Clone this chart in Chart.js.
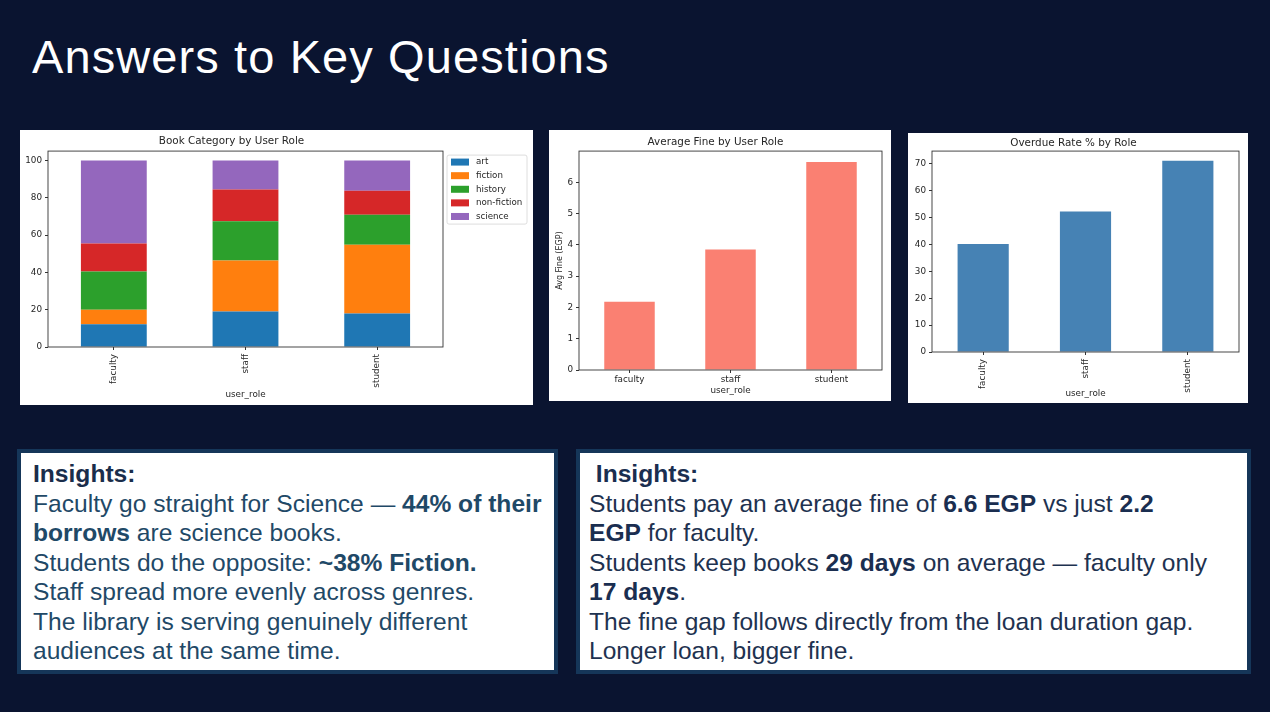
<!DOCTYPE html>
<html>
<head>
<meta charset="utf-8">
<title>Answers to Key Questions</title>
<script src="https://cdn.jsdelivr.net/npm/chart.js@4.4.0/dist/chart.umd.min.js"></script>
<style>
  html, body { margin: 0; padding: 0; }
  body {
    width: 1270px; height: 712px; overflow: hidden;
    background: #0a1430; position: relative;
    font-family: "Liberation Sans", Arial, sans-serif;
  }
  .slide-title {
    position: absolute; left: 32px; top: 34px;
    font-size: 47px; line-height: 46px; letter-spacing: 1.1px;
    color: #fff; white-space: nowrap;
  }
  .panel { position: absolute; background: #fff; }
  .panel canvas { display: block; }
  .note {
    position: absolute; box-sizing: border-box;
    border: 4px solid #153659; background: #fff;
    font-size: 24.6px; line-height: 29.5px; white-space: nowrap;
  }
  .note b { font-weight: bold; }
  #noteLeft { left: 17px; top: 449px; width: 541px; height: 225px; padding: 6px 0 0 12px; color: #1f4967; }
  #noteLeft .head { color: #1a2d4b; }
  #noteRight { left: 576px; top: 449px; width: 675px; height: 225px; padding: 6px 0 0 9px; color: #1e3250; }
  #noteRight b { color: #1a2e50; }
</style>
</head>
<body>

<div class="slide-title">Answers to Key Questions</div>

<div class="panel" style="left:20px; top:130px; width:513px; height:275px;"><canvas id="categoryChart"></canvas></div>
<div class="panel" style="left:549px; top:130px; width:342px; height:271px;"><canvas id="fineChart"></canvas></div>
<div class="panel" style="left:908px; top:133px; width:340px; height:270px;"><canvas id="overdueChart"></canvas></div>

<div class="note" id="noteLeft">
  <b class="head">Insights:</b><br>
  Faculty go straight for Science — <b>44% of their</b><br>
  <b>borrows</b> are science books.<br>
  Students do the opposite: <b>~38% Fiction.</b><br>
  Staff spread more evenly across genres.<br>
  The library is serving genuinely different<br>
  audiences at the same time.
</div>

<div class="note" id="noteRight">
  <b>&nbsp;Insights:</b><br>
  Students pay an average fine of <b>6.6 EGP</b> vs just <b>2.2</b><br>
  <b>EGP</b> for faculty.<br>
  Students keep books <b>29 days</b> on average — faculty only<br>
  <b>17 days</b>.<br>
  The fine gap follows directly from the loan duration gap.<br>
  Longer loan, bigger fine.
</div>

<script>
// ---- data ----
const roles = ['faculty', 'staff', 'student'];
const categoryNames = ['art', 'fiction', 'history', 'non-fiction', 'science'];

// share of borrows per category, % (faculty, staff, student)
const artShare = [12.2, 19.0, 17.9];
const fictionShare = [7.7, 27.3, 36.9];
const historyShare = [20.5, 21.1, 16.1];
const nonFictionShare = [15.1, 17.0, 12.8];
const scienceShare = [44.5, 15.6, 16.3];

const avgFine = [2.18, 3.85, 6.65];
const overdueRate = [40.2, 52.3, 71.2];

const shareTicks = [0, 20, 40, 60, 80, 100];
const fineTicks = [0, 1, 2, 3, 4, 5, 6];
const overdueTicks = [0, 10, 20, 30, 40, 50, 60, 70];

// ---- styling ----
const tab10 = ['#1f77b4', '#ff7f0e', '#2ca02c', '#d62728', '#9467bd'];
const inkColor = '#262626';
const tickSize = 8.8;

Chart.defaults.font.family = '"DejaVu Sans", sans-serif';
Chart.defaults.color = inkColor;
Chart.defaults.animation = false;

// matplotlib style box around the plot area
const framePlugin = {
  id: 'frame',
  afterDatasetsDraw(chart) {
    const a = chart.chartArea;
    const ctx = chart.ctx;
    ctx.save();
    ctx.strokeStyle = '#333';
    ctx.lineWidth = 0.9;
    ctx.strokeRect(a.left, a.top, a.right - a.left, a.bottom - a.top);
    ctx.restore();
  }
};

// legend box sitting just right of the axes, like pandas' default
const sideLegend = {
  id: 'sideLegend',
  afterDraw(chart) {
    const a = chart.chartArea;
    const ctx = chart.ctx;
    const x0 = a.right + 4, y0 = a.top + 4, w = 80, h = 69;
    ctx.save();
    ctx.fillStyle = 'rgba(255,255,255,0.9)';
    ctx.strokeStyle = '#d6d6d6';
    ctx.lineWidth = 0.8;
    ctx.beginPath();
    ctx.roundRect(x0, y0, w, h, 2);
    ctx.fill();
    ctx.stroke();
    ctx.font = '8.7px "DejaVu Sans", sans-serif';
    ctx.textBaseline = 'middle';
    chart.data.datasets.forEach((ds, i) => {
      const cy = y0 + 7 + i * 13.6;
      ctx.fillStyle = ds.backgroundColor;
      ctx.fillRect(x0 + 4, cy - 3.5, 18, 7);
      ctx.fillStyle = inkColor;
      ctx.fillText(ds.label, x0 + 29, cy);
    });
    ctx.restore();
  }
};

function tickGrid() {
  return { display: true, drawOnChartArea: false, offset: false, tickLength: 3, color: '#333' };
}

function barOptions(o) {
  return {
    responsive: true,
    maintainAspectRatio: false,
    layout: { padding: { left: 0, right: o.padRight, top: 0, bottom: 0 } },
    plugins: {
      legend: { display: false },
      tooltip: { enabled: false },
      title: {
        display: true,
        text: o.title,
        color: inkColor,
        font: { size: 10.4, weight: 'normal' },
        padding: o.titlePad
      }
    },
    scales: {
      x: {
        stacked: !!o.stacked,
        grid: tickGrid(),
        border: { display: false },
        ticks: {
          font: { size: tickSize },
          padding: o.rotate ? 4 : 1.7,
          minRotation: o.rotate ? 90 : 0,
          maxRotation: o.rotate ? 90 : 0,
          autoSkip: false
        },
        title: { display: true, text: 'user_role', font: { size: tickSize }, padding: { top: 0, bottom: o.xTitlePad } },
        afterFit: s => { s.height = o.xHeight; }
      },
      y: {
        stacked: !!o.stacked,
        min: 0,
        max: o.yMax,
        grid: tickGrid(),
        border: { display: false },
        ticks: { font: { size: tickSize }, padding: 3 },
        title: o.yTitle
          ? { display: true, text: o.yTitle, font: { size: 8 }, padding: { top: 6, bottom: 0 } }
          : { display: false },
        afterBuildTicks: s => { s.ticks = o.yTicks.map(v => ({ value: v })); },
        afterFit: s => { s.width = o.yWidth; }
      }
    }
  };
}

// ---- chart 1: stacked category shares ----
const shareSeries = [artShare, fictionShare, historyShare, nonFictionShare, scienceShare];
new Chart(document.getElementById('categoryChart'), {
  type: 'bar',
  data: {
    labels: roles,
    datasets: categoryNames.map((name, i) => ({
      label: name,
      data: shareSeries[i],
      backgroundColor: tab10[i],
      borderWidth: 0,
      barPercentage: 0.5,
      categoryPercentage: 1.0
    }))
  },
  options: barOptions({
    title: 'Book Category by User Role',
    titlePad: { top: 4.8, bottom: 3.8 },
    stacked: true, rotate: true,
    padRight: 90, yWidth: 28, xHeight: 58, xTitlePad: 4.7,
    yMax: 105, yTicks: shareTicks
  }),
  plugins: [framePlugin, sideLegend]
});

// ---- chart 2: average fine ----
new Chart(document.getElementById('fineChart'), {
  type: 'bar',
  data: {
    labels: roles,
    datasets: [{
      label: 'Avg Fine (EGP)',
      data: avgFine,
      backgroundColor: '#fa8072',
      borderWidth: 0,
      barPercentage: 0.5,
      categoryPercentage: 1.0
    }]
  },
  options: barOptions({
    title: 'Average Fine by User Role',
    titlePad: { top: 5.8, bottom: 2.8 },
    rotate: false,
    padRight: 9, yWidth: 30, xHeight: 31, xTitlePad: 4.7,
    yMax: 7.0, yTicks: fineTicks, yTitle: 'Avg Fine (EGP)'
  }),
  plugins: [framePlugin]
});

// ---- chart 3: overdue rate ----
new Chart(document.getElementById('overdueChart'), {
  type: 'bar',
  data: {
    labels: roles,
    datasets: [{
      label: 'Overdue Rate %',
      data: overdueRate,
      backgroundColor: '#4682b4',
      borderWidth: 0,
      barPercentage: 0.5,
      categoryPercentage: 1.0
    }]
  },
  options: barOptions({
    title: 'Overdue Rate % by Role',
    titlePad: { top: 3.8, bottom: 1.8 },
    rotate: true,
    padRight: 9, yWidth: 24, xHeight: 51, xTitlePad: 3.7,
    yMax: 74.8, yTicks: overdueTicks
  }),
  plugins: [framePlugin]
});
</script>
</body>
</html>
